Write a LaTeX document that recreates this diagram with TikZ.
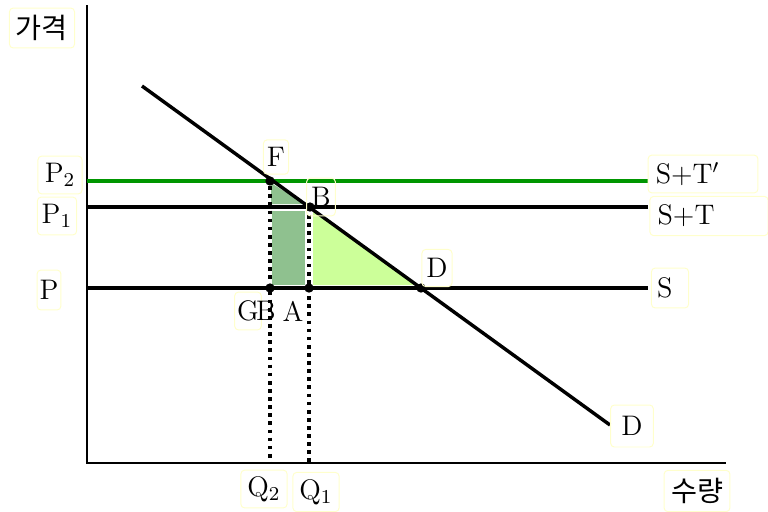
\documentclass[tikz,border=0pt]{standalone}
\usepackage{fontspec}
\newfontfamily\kr{Noto Sans CJK KR}
\definecolor{lblframe}{RGB}{255,255,204}
\definecolor{taxgreen}{RGB}{0,150,0}
\definecolor{lossdark}{RGB}{143,193,143}
\definecolor{losslight}{RGB}{204,255,153}
\usetikzlibrary{positioning}

\tikzset{
  lbl/.style={draw=lblframe,rounded corners=1.5pt,inner sep=1pt,align=center,
              font=\fontsize{11.5}{13}\selectfont},
  bare/.style={inner sep=1pt,font=\fontsize{11.5}{13}\selectfont},
  dot/.style={circle,fill=black,inner sep=0pt,minimum size=3.8pt},
  curve/.style={line width=1.4pt},
  guide/.style={line width=1.3pt,dash pattern=on 1.5pt off 1.8pt},
}

\begin{document}
\begin{tikzpicture}[x=0.0143cm,y=-0.0143cm]
  \useasboundingbox (0,0) rectangle (768,511);

  % end points
  \coordinate (O) at (87,463);
  \coordinate (ytop) at (87,5);
  \coordinate (xend) at (726,463);
  \coordinate (dstart) at (142,86);
  \coordinate (dend) at (610,425);
  \coordinate (p2left) at (87,181);
  \coordinate (p2right) at (648,181);
  \coordinate (p1left) at (87,207);
  \coordinate (p1right) at (648,207);
  \coordinate (pleft) at (87,288);
  \coordinate (pright) at (648,288);
  \coordinate (q2) at (270,463);
  \coordinate (q1) at (309,463);

  % shaded areas
  \fill[lossdark] (271,183) -- (271,204) -- (305,204) -- cycle;
  \fill[lossdark] (272,211) rectangle (305,285);
  \fill[losslight] (313,210) -- (313,285) -- (417,285) -- cycle;

  % axes
  \draw[line width=0.6pt] (ytop) -- (O) -- (xend);

  % price lines
  \draw[curve,taxgreen] (p2left) -- (p2right);
  \draw[curve] (p1left) -- (p1right);
  \draw[curve] (pleft) -- (pright);
  \draw[curve] (dstart) -- (dend);

  % points
  \node[dot] (F) at (270,181) {};
  \node[dot] (B) at (310,207) {};
  \node[dot] (D) at (421,288) {};
  \node[dot] (G) at (270,288) {};
  \node[dot] (A) at (309,288) {};

  \draw[guide] (F) -- (q2);
  \draw[guide] (B.center) ++(-1,0) -- (q1);

  % labels
  \node[lbl,minimum width=0.93cm,minimum height=0.57cm] (price) at (42,28) {\kr 가격};
  \node[lbl,minimum width=0.94cm,minimum height=0.59cm] (qty) at (697,491) {\kr 수량};
  \node[lbl,minimum width=0.36cm,minimum height=0.49cm] (Flbl) at (276,157) {F};
  \node[lbl,minimum width=0.41cm,minimum height=0.54cm] (Blbl) at (321,197) {B};
  \node[lbl,minimum width=0.43cm,minimum height=0.53cm] (Dlbl) at (437,268) {D};
  \node[lbl,minimum width=0.61cm,minimum height=0.6cm] (Dend) at (632,426) {D};
  \node[lbl,minimum width=0.63cm,minimum height=0.54cm] (P2lbl) at (60,175) {P$_2$};
  \node[lbl,minimum width=0.56cm,minimum height=0.54cm] (P1lbl) at (57,216) {P$_1$};
  \node[lbl,minimum width=0.31cm,minimum height=0.57cm] (Plbl) at (49,290) {P};
  \node[lbl,text width=1.35cm,align=left,inner xsep=0.11cm,minimum height=0.54cm]
        (STp) at (703,174) {S+T$'$};
  \node[lbl,text width=1.47cm,align=left,inner xsep=0.11cm,minimum height=0.56cm]
        (ST) at (709,216) {S+T};
  \node[lbl,text width=0.37cm,align=left,inner xsep=0.08cm,minimum height=0.57cm]
        (Slbl) at (670,288) {S};
  \node[lbl,minimum width=0.37cm,minimum height=0.54cm] (Glbl) at (248,311) {G};
  \node[bare] (Blow) at (266,311) {B};
  \node[bare] (Albl) at (293,311) {A};
  \node[lbl,minimum width=0.66cm,minimum height=0.54cm] (Q2lbl) at (264,489) {Q$_2$};
  \node[lbl,minimum width=0.66cm,minimum height=0.56cm] (Q1lbl) at (316,492) {Q$_1$};
\end{tikzpicture}
\end{document}
